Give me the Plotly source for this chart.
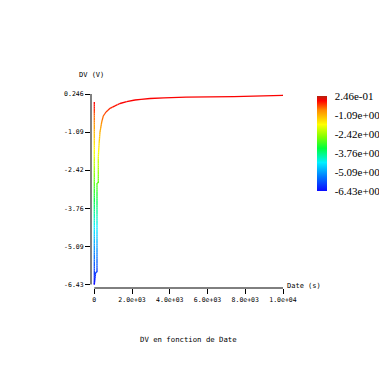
import math
import plotly.graph_objects as go
from plotly.colors import sample_colorscale

# ---- data ----
dates = [0, 0, 74, 143, 143, 212, 212, 265, 302, 392, 477, 620, 832, 1097,
         1362, 1717, 2157, 2475, 2952, 3694, 4860, 7403, 10000]
dv = [-0.03, -6.43, -6.0, -6.0, -2.87, -2.87, -1.95, -1.40, -1.09, -0.735,
      -0.525, -0.385, -0.255, -0.168, -0.087, -0.024, 0.036, 0.060, 0.088,
      0.113, 0.134, 0.155, 0.20]

x_tickvals = [0, 2000, 4000, 6000, 8000, 10000]
x_ticktext = ["0", "2.0e+03", "4.0e+03", "6.0e+03", "8.0e+03", "1.0e+04"]
v_min, v_max = -6.43, 0.246
y_tickvals = [v_max + i * (v_min - v_max) / 5 for i in range(6)]
y_ticktext = ["0.246", "-1.09", "-2.42", "-3.76", "-5.09", "-6.43"]
cb_ticktext = ["2.46e-01", "-1.09e+00", "-2.42e+00", "-3.76e+00", "-5.09e+00", "-6.43e+00"]

colorscale = [[0.0, 'rgb(10,10,255)'], [0.15, 'rgb(0,120,255)'], [0.3, 'rgb(0,240,255)'],
              [0.45, 'rgb(0,255,60)'], [0.57, 'rgb(130,255,0)'], [0.7, 'rgb(255,255,0)'],
              [0.85, 'rgb(255,140,0)'], [0.95, 'rgb(255,0,0)'], [1.0, 'rgb(180,35,15)']]

NLEV = 64
levels = {}
for i in range(len(dates) - 1):
    x0, x1, y0, y1 = dates[i], dates[i + 1], dv[i], dv[i + 1]
    n = max(1, math.ceil(abs(y1 - y0) / 0.08))
    for k in range(n):
        a, b = k / n, (k + 1) / n
        xa, xb = x0 + (x1 - x0) * a, x0 + (x1 - x0) * b
        ya, yb = y0 + (y1 - y0) * a, y0 + (y1 - y0) * b
        frac = ((ya + yb) / 2 - v_min) / (v_max - v_min)
        frac = min(max(frac, 0), 0.96)
        lev = int(round(frac * (NLEV - 1)))
        xs, ys = levels.setdefault(lev, ([], []))
        xs += [xa, xb, None]
        ys += [ya, yb, None]

fig = go.Figure()
for lev, (xs, ys) in sorted(levels.items()):
    col = sample_colorscale(colorscale, [lev / (NLEV - 1)])[0]
    fig.add_trace(go.Scatter(x=xs, y=ys, mode='lines', line=dict(color=col, width=1.3),
                             hoverinfo='skip', showlegend=False))

# plot area in pixels: x 91..283, y 94..288
PL, PR, PT, PB = 91, 283, 94, 288
def px_x(p):
    return (p - PL) / (PR - PL)
def px_y(p):
    return (PB - p) / (PB - PT)

# colorbar carrier
fig.add_trace(go.Scatter(
    x=[dates[-1]], y=[dv[-1]], mode='markers', showlegend=False, hoverinfo='skip',
    marker=dict(size=1, color=[dv[-1]], colorscale=colorscale, cmin=v_min, cmax=v_max,
                showscale=True,
                colorbar=dict(x=px_x(317), xanchor='left',
                              y=px_y(143.5), yanchor='middle', lenmode='pixels', len=95,
                              thickness=10, xpad=0, ypad=0, outlinewidth=0,
                              tickmode='array', tickvals=y_tickvals, ticktext=cb_ticktext,
                              ticks='outside', ticklen=6, tickcolor='rgba(0,0,0,0)',
                              tickfont=dict(family='Liberation Serif', size=11, color='black')))))

mono = dict(family='DejaVu Sans Mono', size=6.5, color='black')

fig.update_layout(
    width=379, height=379,
    margin=dict(l=PL, r=379 - PR, t=PT, b=379 - PB, autoexpand=False),
    paper_bgcolor='white', plot_bgcolor='white',
    xaxis=dict(range=[-175, 10000], showgrid=False, zeroline=False, showline=False,
               tickmode='array', tickvals=x_tickvals, ticktext=x_ticktext,
               ticks='outside', ticklen=5, tickwidth=1, tickcolor='black', tickfont=mono),
    yaxis=dict(range=[-6.553, 0.246], showgrid=False, zeroline=False, showline=False,
               tickmode='array', tickvals=y_tickvals, ticktext=y_ticktext,
               ticks='outside', ticklen=5, tickwidth=1, tickcolor='black', tickfont=mono),
    shapes=[
        dict(type='line', xref='x', yref='paper', x0=x_tickvals[0], x1=x_tickvals[-1], y0=0, y1=0,
             line=dict(color='black', width=1)),
        dict(type='line', xref='paper', yref='y', x0=0, x1=0, y0=v_min, y1=v_max,
             line=dict(color='black', width=1)),
    ],
    annotations=[
        dict(text='DV (V)', xref='paper', yref='paper', x=px_x(77), y=px_y(75),
             xanchor='left', yanchor='middle', showarrow=False,
             font=dict(family='DejaVu Sans Mono', size=7, color='black')),
        dict(text='Date (s)', xref='paper', yref='paper', x=px_x(285), y=px_y(286),
             xanchor='left', yanchor='middle', showarrow=False,
             font=dict(family='DejaVu Sans Mono', size=7, color='black')),
        dict(text='DV en fonction de Date', xref='paper', yref='paper', x=px_x(188),
             y=px_y(339), xanchor='center', yanchor='middle', showarrow=False,
             font=dict(family='DejaVu Sans Mono', size=7.3, color='black')),
    ],
)

fig.write_html("out.html")
